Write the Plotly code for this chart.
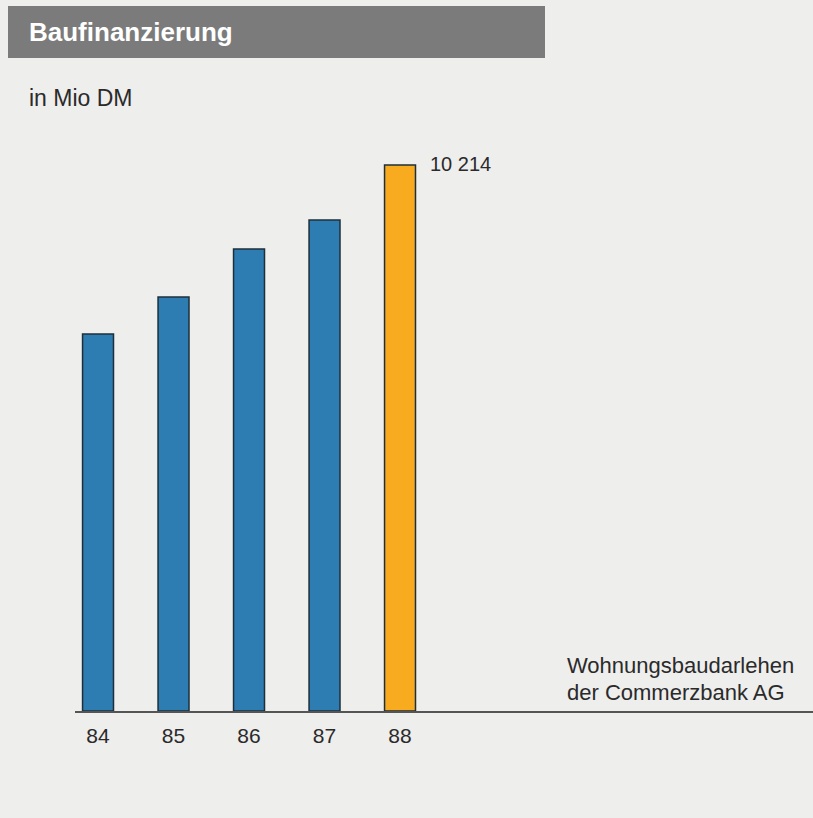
import plotly.graph_objects as go

years = ["84", "85", "86", "87", "88"]
values = [7053, 7745, 8643, 9185, 10214]
bar_colors = ["#2d7db2", "#2d7db2", "#2d7db2", "#2d7db2", "#f8ab1e"]
value_label = "10 214"
legend_lines = ["Wohnungsbaudarlehen", "der Commerzbank AG"]
x_idx = list(range(len(years)))

W, H = 813, 818
L, T, B = 75, 140, 107
PW, PH = W - L, H - T - B


def px(x):
    return (x - L) / PW


def py(y):
    return (H - B - y) / PH


fig = go.Figure()
fig.add_trace(go.Bar(
    x=x_idx, y=values, width=0.41,
    marker=dict(color=bar_colors, line=dict(color="#1f2f3a", width=1.5)),
    hoverinfo="skip",
))

fig.add_annotation(x=x_idx[-1], y=values[-1], xref="x", yref="y",
                   text=value_label, showarrow=False, xanchor="left", yanchor="middle",
                   xshift=28, yshift=1, font=dict(size=20, color="#2a2a2a"))

fig.update_layout(
    width=W, height=H,
    margin=dict(l=L, r=0, t=T, b=B),
    paper_bgcolor="#eeeeed", plot_bgcolor="rgba(0,0,0,0)",
    showlegend=False,
    font=dict(family="Liberation Sans, Arial, sans-serif", color="#2a2a2a"),
    xaxis=dict(range=[-0.305, 9.47], tickvals=x_idx, ticktext=years,
               showgrid=False, zeroline=False, showline=True, linecolor="#555555", linewidth=1.5,
               ticks="outside", ticklen=5, tickcolor="rgba(0,0,0,0)",
               tickfont=dict(size=21, color="#2a2a2a")),
    yaxis=dict(range=[0, 10682], visible=False, showgrid=False, zeroline=False),
    shapes=[dict(type="rect", xref="paper", yref="paper", x0=px(8), x1=px(545),
                 y0=py(58), y1=py(6),
                 fillcolor="#7b7b7b", line=dict(width=0), layer="below")],
)

fig.add_annotation(xref="paper", yref="paper", x=px(27), y=py(32),
                   text="<b>Baufinanzierung</b>", showarrow=False, xanchor="left", yanchor="middle",
                   font=dict(size=26, color="#ffffff"))
fig.add_annotation(xref="paper", yref="paper", x=px(27), y=py(98),
                   text="in Mio DM", showarrow=False, xanchor="left", yanchor="middle",
                   font=dict(size=23, color="#2a2a2a"))
for i, (line, yc) in enumerate(zip(legend_lines, [665, 692])):
    fig.add_annotation(xref="paper", yref="paper", x=px(565), y=py(yc),
                       text=line, showarrow=False, xanchor="left", yanchor="middle",
                       font=dict(size=22, color="#2a2a2a"))

fig.write_html("out.html")
